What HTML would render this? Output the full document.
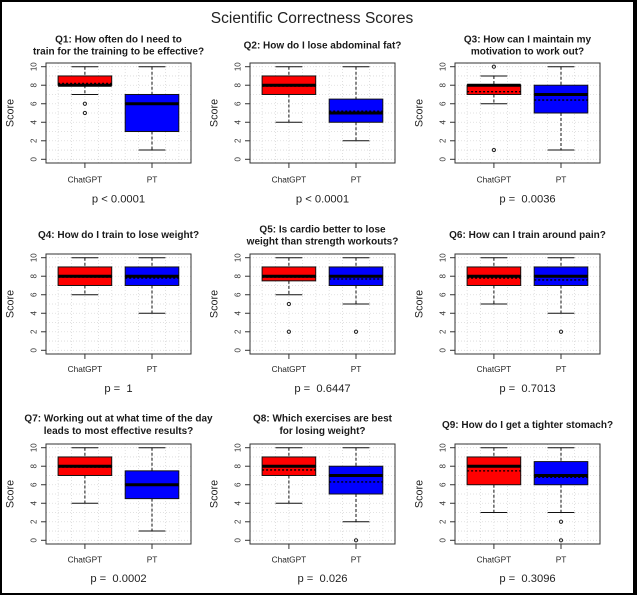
<!DOCTYPE html>
<html><head><meta charset="utf-8"><style>
html,body{margin:0;padding:0;background:#fff;}
svg{display:block;}
text{font-family:"Liberation Sans",Arial,sans-serif;fill:#1a1a1a;}
.t{font-weight:bold;font-size:10px;text-anchor:middle;}
.tk{font-size:8px;text-anchor:middle;fill:#333;}
.xl{font-size:8.3px;text-anchor:middle;fill:#222;}
.yl{font-size:10.8px;text-anchor:middle;fill:#222;}
.pv{font-size:11.2px;text-anchor:middle;white-space:pre;fill:#222;}
.wh{stroke:#111;stroke-width:1;stroke-dasharray:3,2;}
.cap{stroke:#111;stroke-width:1;}
.r{fill:#ff0000;stroke:#111;stroke-width:1;}
.b{fill:#0000ff;stroke:#111;stroke-width:1;}
.med{stroke:#000;stroke-width:3;}
.mn{stroke:#000;stroke-width:1.3;stroke-dasharray:2,2;}
.o{fill:none;stroke:#222;stroke-width:1;}
.g{stroke:#d9d9d9;stroke-width:0.8;stroke-dasharray:1,2;}
</style></head><body>
<svg width="637" height="595" viewBox="0 0 637 595" xmlns="http://www.w3.org/2000/svg">
<defs>
<g id="grid">
<line class="g" x1="0" x2="145" y1="96.3" y2="96.3"/><line class="g" x1="0" x2="145" y1="87.04" y2="87.04"/>
<line class="g" x1="0" x2="145" y1="77.78" y2="77.78"/><line class="g" x1="0" x2="145" y1="68.52" y2="68.52"/>
<line class="g" x1="0" x2="145" y1="59.26" y2="59.26"/><line class="g" x1="0" x2="145" y1="50" y2="50"/>
<line class="g" x1="0" x2="145" y1="40.74" y2="40.74"/><line class="g" x1="0" x2="145" y1="31.48" y2="31.48"/>
<line class="g" x1="0" x2="145" y1="22.22" y2="22.22"/><line class="g" x1="0" x2="145" y1="12.96" y2="12.96"/>
<line class="g" x1="0" x2="145" y1="3.7" y2="3.7"/>
<line class="g" x1="12.1" x2="12.1" y1="0" y2="100"/><line class="g" x1="25.5" x2="25.5" y1="0" y2="100"/>
<line class="g" x1="38.9" x2="38.9" y1="0" y2="100"/><line class="g" x1="52.4" x2="52.4" y1="0" y2="100"/>
<line class="g" x1="65.8" x2="65.8" y1="0" y2="100"/><line class="g" x1="79.2" x2="79.2" y1="0" y2="100"/>
<line class="g" x1="92.6" x2="92.6" y1="0" y2="100"/><line class="g" x1="106" x2="106" y1="0" y2="100"/>
<line class="g" x1="119.5" x2="119.5" y1="0" y2="100"/><line class="g" x1="132.9" x2="132.9" y1="0" y2="100"/>
</g>
<g id="axes" stroke="#333" stroke-width="1" fill="none">
<rect x="0" y="0" width="145" height="100"/>
<line x1="0" y1="3.7" x2="0" y2="96.3"/>
<line x1="-5" x2="0" y1="96.3" y2="96.3"/><line x1="-5" x2="0" y1="77.78" y2="77.78"/>
<line x1="-5" x2="0" y1="59.26" y2="59.26"/><line x1="-5" x2="0" y1="40.74" y2="40.74"/>
<line x1="-5" x2="0" y1="22.22" y2="22.22"/><line x1="-5" x2="0" y1="3.7" y2="3.7"/>
<line x1="38.9" x2="38.9" y1="100" y2="105"/><line x1="106" x2="106" y1="100" y2="105"/>
</g>
</defs>

<rect x="0" y="0" width="637" height="595" fill="#fff"/>
<rect x="0" y="0" width="637" height="2" fill="#000"/>
<rect x="0" y="593" width="637" height="2" fill="#000"/>
<rect x="0" y="0" width="2" height="595" fill="#000"/>
<rect x="633" y="0" width="4" height="595" fill="#000"/>

<text x="312" y="23" style="font-size:15.5px;text-anchor:middle;fill:#222;">Scientific Correctness Scores</text>

<!-- Q1 -->
<g transform="translate(46,63)">
<use href="#grid"/>
<line class="wh" x1="38.9" y1="3.7" x2="38.9" y2="12.96"/><line class="wh" x1="38.9" y1="22.22" x2="38.9" y2="31.48"/>
<line class="cap" x1="25.5" x2="52.3" y1="3.7" y2="3.7"/><line class="cap" x1="25.5" x2="52.3" y1="31.48" y2="31.48"/>
<rect class="r" x="12.1" y="12.96" width="53.6" height="9.26"/>
<line class="med" x1="12.1" x2="65.7" y1="22.22" y2="22.22"/>
<line class="mn" x1="12.1" x2="65.7" y1="20.37" y2="20.37"/>
<circle class="o" cx="38.9" cy="40.74" r="1.6"/><circle class="o" cx="38.9" cy="50" r="1.6"/>
<line class="wh" x1="106" y1="3.7" x2="106" y2="31.48"/><line class="wh" x1="106" y1="68.52" x2="106" y2="87.04"/>
<line class="cap" x1="92.6" x2="119.4" y1="3.7" y2="3.7"/><line class="cap" x1="92.6" x2="119.4" y1="87.04" y2="87.04"/>
<rect class="b" x="79.2" y="31.48" width="53.6" height="37.04"/>
<line class="med" x1="79.2" x2="132.8" y1="40.74" y2="40.74"/>
<use href="#axes"/>
<text class="t" x="72.5" y="-20.5">Q1: How often do I need to</text>
<text class="t" x="72.5" y="-8.5">train for the training to be effective?</text>
<text class="tk" transform="translate(-9.5,96.3) rotate(-90)">0</text><text class="tk" transform="translate(-9.5,77.78) rotate(-90)">2</text>
<text class="tk" transform="translate(-9.5,59.26) rotate(-90)">4</text><text class="tk" transform="translate(-9.5,40.74) rotate(-90)">6</text>
<text class="tk" transform="translate(-9.5,22.22) rotate(-90)">8</text><text class="tk" transform="translate(-9.5,3.7) rotate(-90)">10</text>
<text class="yl" transform="translate(-32.5,50) rotate(-90)">Score</text>
<text class="xl" x="38.9" y="119.5">ChatGPT</text><text class="xl" x="106" y="119.5">PT</text>
<text class="pv" x="72.5" y="139.5">p &lt; 0.0001</text>
</g>

<!-- Q2 -->
<g transform="translate(250,63)">
<use href="#grid"/>
<line class="wh" x1="38.9" y1="3.7" x2="38.9" y2="12.96"/><line class="wh" x1="38.9" y1="31.48" x2="38.9" y2="59.26"/>
<line class="cap" x1="25.5" x2="52.3" y1="3.7" y2="3.7"/><line class="cap" x1="25.5" x2="52.3" y1="59.26" y2="59.26"/>
<rect class="r" x="12.1" y="12.96" width="53.6" height="18.52"/>
<line class="med" x1="12.1" x2="65.7" y1="22.22" y2="22.22"/>
<line class="mn" x1="12.1" x2="65.7" y1="23.15" y2="23.15"/>
<line class="wh" x1="106" y1="3.7" x2="106" y2="36.11"/><line class="wh" x1="106" y1="59.26" x2="106" y2="77.78"/>
<line class="cap" x1="92.6" x2="119.4" y1="3.7" y2="3.7"/><line class="cap" x1="92.6" x2="119.4" y1="77.78" y2="77.78"/>
<rect class="b" x="79.2" y="36.11" width="53.6" height="23.15"/>
<line class="med" x1="79.2" x2="132.8" y1="50" y2="50"/>
<line class="mn" x1="79.2" x2="132.8" y1="48.15" y2="48.15"/>
<use href="#axes"/>
<text class="t" x="72.5" y="-14.5">Q2: How do I lose abdominal fat?</text>
<text class="tk" transform="translate(-9.5,96.3) rotate(-90)">0</text><text class="tk" transform="translate(-9.5,77.78) rotate(-90)">2</text>
<text class="tk" transform="translate(-9.5,59.26) rotate(-90)">4</text><text class="tk" transform="translate(-9.5,40.74) rotate(-90)">6</text>
<text class="tk" transform="translate(-9.5,22.22) rotate(-90)">8</text><text class="tk" transform="translate(-9.5,3.7) rotate(-90)">10</text>
<text class="yl" transform="translate(-32.5,50) rotate(-90)">Score</text>
<text class="xl" x="38.9" y="119.5">ChatGPT</text><text class="xl" x="106" y="119.5">PT</text>
<text class="pv" x="72.5" y="139.5">p &lt; 0.0001</text>
</g>

<!-- Q3 -->
<g transform="translate(455,63)">
<use href="#grid"/>
<line class="wh" x1="38.9" y1="12.96" x2="38.9" y2="22.22"/><line class="wh" x1="38.9" y1="31.48" x2="38.9" y2="40.74"/>
<line class="cap" x1="25.5" x2="52.3" y1="12.96" y2="12.96"/><line class="cap" x1="25.5" x2="52.3" y1="40.74" y2="40.74"/>
<rect class="r" x="12.1" y="22.22" width="53.6" height="9.26"/>
<line class="med" x1="12.1" x2="65.7" y1="22.22" y2="22.22"/>
<line class="mn" x1="12.1" x2="65.7" y1="28.7" y2="28.7"/>
<circle class="o" cx="38.9" cy="3.7" r="1.6"/><circle class="o" cx="38.9" cy="87.04" r="1.6"/>
<line class="wh" x1="106" y1="3.7" x2="106" y2="22.22"/><line class="wh" x1="106" y1="50" x2="106" y2="87.04"/>
<line class="cap" x1="92.6" x2="119.4" y1="3.7" y2="3.7"/><line class="cap" x1="92.6" x2="119.4" y1="87.04" y2="87.04"/>
<rect class="b" x="79.2" y="22.22" width="53.6" height="27.78"/>
<line class="med" x1="79.2" x2="132.8" y1="31.48" y2="31.48"/>
<line class="mn" x1="79.2" x2="132.8" y1="37.04" y2="37.04"/>
<use href="#axes"/>
<text class="t" x="72.5" y="-20.5">Q3: How can I maintain my</text>
<text class="t" x="72.5" y="-8.5">motivation to work out?</text>
<text class="tk" transform="translate(-9.5,96.3) rotate(-90)">0</text><text class="tk" transform="translate(-9.5,77.78) rotate(-90)">2</text>
<text class="tk" transform="translate(-9.5,59.26) rotate(-90)">4</text><text class="tk" transform="translate(-9.5,40.74) rotate(-90)">6</text>
<text class="tk" transform="translate(-9.5,22.22) rotate(-90)">8</text><text class="tk" transform="translate(-9.5,3.7) rotate(-90)">10</text>
<text class="yl" transform="translate(-32.5,50) rotate(-90)">Score</text>
<text class="xl" x="38.9" y="119.5">ChatGPT</text><text class="xl" x="106" y="119.5">PT</text>
<text class="pv" x="72.5" y="139.5">p =  0.0036</text>
</g>

<!-- Q4 -->
<g transform="translate(46,254)">
<use href="#grid"/>
<line class="wh" x1="38.9" y1="3.7" x2="38.9" y2="12.96"/><line class="wh" x1="38.9" y1="31.48" x2="38.9" y2="40.74"/>
<line class="cap" x1="25.5" x2="52.3" y1="3.7" y2="3.7"/><line class="cap" x1="25.5" x2="52.3" y1="40.74" y2="40.74"/>
<rect class="r" x="12.1" y="12.96" width="53.6" height="18.52"/>
<line class="med" x1="12.1" x2="65.7" y1="22.22" y2="22.22"/>
<line class="mn" x1="12.1" x2="65.7" y1="23.15" y2="23.15"/>
<line class="wh" x1="106" y1="3.7" x2="106" y2="12.96"/><line class="wh" x1="106" y1="31.48" x2="106" y2="59.26"/>
<line class="cap" x1="92.6" x2="119.4" y1="3.7" y2="3.7"/><line class="cap" x1="92.6" x2="119.4" y1="59.26" y2="59.26"/>
<rect class="b" x="79.2" y="12.96" width="53.6" height="18.52"/>
<line class="med" x1="79.2" x2="132.8" y1="22.22" y2="22.22"/>
<line class="mn" x1="79.2" x2="132.8" y1="24.07" y2="24.07"/>
<use href="#axes"/>
<text class="t" x="72.5" y="-16">Q4: How do I train to lose weight?</text>
<text class="tk" transform="translate(-9.5,96.3) rotate(-90)">0</text><text class="tk" transform="translate(-9.5,77.78) rotate(-90)">2</text>
<text class="tk" transform="translate(-9.5,59.26) rotate(-90)">4</text><text class="tk" transform="translate(-9.5,40.74) rotate(-90)">6</text>
<text class="tk" transform="translate(-9.5,22.22) rotate(-90)">8</text><text class="tk" transform="translate(-9.5,3.7) rotate(-90)">10</text>
<text class="yl" transform="translate(-32.5,50) rotate(-90)">Score</text>
<text class="xl" x="38.9" y="118">ChatGPT</text><text class="xl" x="106" y="118">PT</text>
<text class="pv" x="72.5" y="138">p =  1</text>
</g>

<!-- Q5 -->
<g transform="translate(250,254)">
<use href="#grid"/>
<line class="wh" x1="38.9" y1="3.7" x2="38.9" y2="12.96"/><line class="wh" x1="38.9" y1="26.85" x2="38.9" y2="40.74"/>
<line class="cap" x1="25.5" x2="52.3" y1="3.7" y2="3.7"/><line class="cap" x1="25.5" x2="52.3" y1="40.74" y2="40.74"/>
<rect class="r" x="12.1" y="12.96" width="53.6" height="13.89"/>
<line class="med" x1="12.1" x2="65.7" y1="22.22" y2="22.22"/>
<line class="mn" x1="12.1" x2="65.7" y1="23.15" y2="23.15"/>
<circle class="o" cx="38.9" cy="50" r="1.6"/><circle class="o" cx="38.9" cy="77.78" r="1.6"/>
<line class="wh" x1="106" y1="3.7" x2="106" y2="12.96"/><line class="wh" x1="106" y1="31.48" x2="106" y2="50"/>
<line class="cap" x1="92.6" x2="119.4" y1="3.7" y2="3.7"/><line class="cap" x1="92.6" x2="119.4" y1="50" y2="50"/>
<rect class="b" x="79.2" y="12.96" width="53.6" height="18.52"/>
<line class="med" x1="79.2" x2="132.8" y1="22.22" y2="22.22"/>
<line class="mn" x1="79.2" x2="132.8" y1="25" y2="25"/>
<circle class="o" cx="106" cy="77.78" r="1.6"/>
<use href="#axes"/>
<text class="t" x="72.5" y="-21.5">Q5: Is cardio better to lose</text>
<text class="t" x="72.5" y="-9.5">weight than strength workouts?</text>
<text class="tk" transform="translate(-9.5,96.3) rotate(-90)">0</text><text class="tk" transform="translate(-9.5,77.78) rotate(-90)">2</text>
<text class="tk" transform="translate(-9.5,59.26) rotate(-90)">4</text><text class="tk" transform="translate(-9.5,40.74) rotate(-90)">6</text>
<text class="tk" transform="translate(-9.5,22.22) rotate(-90)">8</text><text class="tk" transform="translate(-9.5,3.7) rotate(-90)">10</text>
<text class="yl" transform="translate(-32.5,50) rotate(-90)">Score</text>
<text class="xl" x="38.9" y="118">ChatGPT</text><text class="xl" x="106" y="118">PT</text>
<text class="pv" x="72.5" y="138">p =  0.6447</text>
</g>

<!-- Q6 -->
<g transform="translate(455,254)">
<use href="#grid"/>
<line class="wh" x1="38.9" y1="3.7" x2="38.9" y2="12.96"/><line class="wh" x1="38.9" y1="31.48" x2="38.9" y2="50"/>
<line class="cap" x1="25.5" x2="52.3" y1="3.7" y2="3.7"/><line class="cap" x1="25.5" x2="52.3" y1="50" y2="50"/>
<rect class="r" x="12.1" y="12.96" width="53.6" height="18.52"/>
<line class="med" x1="12.1" x2="65.7" y1="22.22" y2="22.22"/>
<line class="mn" x1="12.1" x2="65.7" y1="24.07" y2="24.07"/>
<line class="wh" x1="106" y1="3.7" x2="106" y2="12.96"/><line class="wh" x1="106" y1="31.48" x2="106" y2="59.26"/>
<line class="cap" x1="92.6" x2="119.4" y1="3.7" y2="3.7"/><line class="cap" x1="92.6" x2="119.4" y1="59.26" y2="59.26"/>
<rect class="b" x="79.2" y="12.96" width="53.6" height="18.52"/>
<line class="med" x1="79.2" x2="132.8" y1="22.22" y2="22.22"/>
<line class="mn" x1="79.2" x2="132.8" y1="25.93" y2="25.93"/>
<circle class="o" cx="106" cy="77.78" r="1.6"/>
<use href="#axes"/>
<text class="t" x="72.5" y="-16">Q6: How can I train around pain?</text>
<text class="tk" transform="translate(-9.5,96.3) rotate(-90)">0</text><text class="tk" transform="translate(-9.5,77.78) rotate(-90)">2</text>
<text class="tk" transform="translate(-9.5,59.26) rotate(-90)">4</text><text class="tk" transform="translate(-9.5,40.74) rotate(-90)">6</text>
<text class="tk" transform="translate(-9.5,22.22) rotate(-90)">8</text><text class="tk" transform="translate(-9.5,3.7) rotate(-90)">10</text>
<text class="yl" transform="translate(-32.5,50) rotate(-90)">Score</text>
<text class="xl" x="38.9" y="118">ChatGPT</text><text class="xl" x="106" y="118">PT</text>
<text class="pv" x="72.5" y="138">p =  0.7013</text>
</g>

<!-- Q7 -->
<g transform="translate(46,444)">
<use href="#grid"/>
<line class="wh" x1="38.9" y1="3.7" x2="38.9" y2="12.96"/><line class="wh" x1="38.9" y1="31.48" x2="38.9" y2="59.26"/>
<line class="cap" x1="25.5" x2="52.3" y1="3.7" y2="3.7"/><line class="cap" x1="25.5" x2="52.3" y1="59.26" y2="59.26"/>
<rect class="r" x="12.1" y="12.96" width="53.6" height="18.52"/>
<line class="med" x1="12.1" x2="65.7" y1="22.22" y2="22.22"/>
<line class="mn" x1="12.1" x2="65.7" y1="23.15" y2="23.15"/>
<line class="wh" x1="106" y1="3.7" x2="106" y2="26.85"/><line class="wh" x1="106" y1="54.63" x2="106" y2="87.04"/>
<line class="cap" x1="92.6" x2="119.4" y1="3.7" y2="3.7"/><line class="cap" x1="92.6" x2="119.4" y1="87.04" y2="87.04"/>
<rect class="b" x="79.2" y="26.85" width="53.6" height="27.78"/>
<line class="med" x1="79.2" x2="132.8" y1="40.74" y2="40.74"/>
<use href="#axes"/>
<text class="t" x="72.5" y="-22.5">Q7: Working out at what time of the day</text>
<text class="t" x="72.5" y="-10">leads to most effective results?</text>
<text class="tk" transform="translate(-9.5,96.3) rotate(-90)">0</text><text class="tk" transform="translate(-9.5,77.78) rotate(-90)">2</text>
<text class="tk" transform="translate(-9.5,59.26) rotate(-90)">4</text><text class="tk" transform="translate(-9.5,40.74) rotate(-90)">6</text>
<text class="tk" transform="translate(-9.5,22.22) rotate(-90)">8</text><text class="tk" transform="translate(-9.5,3.7) rotate(-90)">10</text>
<text class="yl" transform="translate(-32.5,50) rotate(-90)">Score</text>
<text class="xl" x="38.9" y="118.5">ChatGPT</text><text class="xl" x="106" y="118.5">PT</text>
<text class="pv" x="72.5" y="138">p =  0.0002</text>
</g>

<!-- Q8 -->
<g transform="translate(250,444)">
<use href="#grid"/>
<line class="wh" x1="38.9" y1="3.7" x2="38.9" y2="12.96"/><line class="wh" x1="38.9" y1="31.48" x2="38.9" y2="59.26"/>
<line class="cap" x1="25.5" x2="52.3" y1="3.7" y2="3.7"/><line class="cap" x1="25.5" x2="52.3" y1="59.26" y2="59.26"/>
<rect class="r" x="12.1" y="12.96" width="53.6" height="18.52"/>
<line class="med" x1="12.1" x2="65.7" y1="22.22" y2="22.22"/>
<line class="mn" x1="12.1" x2="65.7" y1="25.93" y2="25.93"/>
<line class="wh" x1="106" y1="3.7" x2="106" y2="22.22"/><line class="wh" x1="106" y1="50" x2="106" y2="77.78"/>
<line class="cap" x1="92.6" x2="119.4" y1="3.7" y2="3.7"/><line class="cap" x1="92.6" x2="119.4" y1="77.78" y2="77.78"/>
<rect class="b" x="79.2" y="22.22" width="53.6" height="27.78"/>
<line class="med" x1="79.2" x2="132.8" y1="31.48" y2="31.48"/>
<line class="mn" x1="79.2" x2="132.8" y1="37.96" y2="37.96"/>
<circle class="o" cx="106" cy="96.3" r="1.6"/>
<use href="#axes"/>
<text class="t" x="72.5" y="-22.5">Q8: Which exercises are best</text>
<text class="t" x="72.5" y="-10">for losing weight?</text>
<text class="tk" transform="translate(-9.5,96.3) rotate(-90)">0</text><text class="tk" transform="translate(-9.5,77.78) rotate(-90)">2</text>
<text class="tk" transform="translate(-9.5,59.26) rotate(-90)">4</text><text class="tk" transform="translate(-9.5,40.74) rotate(-90)">6</text>
<text class="tk" transform="translate(-9.5,22.22) rotate(-90)">8</text><text class="tk" transform="translate(-9.5,3.7) rotate(-90)">10</text>
<text class="yl" transform="translate(-32.5,50) rotate(-90)">Score</text>
<text class="xl" x="38.9" y="118.5">ChatGPT</text><text class="xl" x="106" y="118.5">PT</text>
<text class="pv" x="72.5" y="138">p =  0.026</text>
</g>

<!-- Q9 -->
<g transform="translate(455,444)">
<use href="#grid"/>
<line class="wh" x1="38.9" y1="3.7" x2="38.9" y2="12.96"/><line class="wh" x1="38.9" y1="40.74" x2="38.9" y2="68.52"/>
<line class="cap" x1="25.5" x2="52.3" y1="3.7" y2="3.7"/><line class="cap" x1="25.5" x2="52.3" y1="68.52" y2="68.52"/>
<rect class="r" x="12.1" y="12.96" width="53.6" height="27.78"/>
<line class="med" x1="12.1" x2="65.7" y1="22.22" y2="22.22"/>
<line class="mn" x1="12.1" x2="65.7" y1="26.85" y2="26.85"/>
<line class="wh" x1="106" y1="3.7" x2="106" y2="17.59"/><line class="wh" x1="106" y1="40.74" x2="106" y2="68.52"/>
<line class="cap" x1="92.6" x2="119.4" y1="3.7" y2="3.7"/><line class="cap" x1="92.6" x2="119.4" y1="68.52" y2="68.52"/>
<rect class="b" x="79.2" y="17.59" width="53.6" height="23.15"/>
<line class="med" x1="79.2" x2="132.8" y1="31.48" y2="31.48"/>
<line class="mn" x1="79.2" x2="132.8" y1="33.3" y2="33.3"/>
<circle class="o" cx="106" cy="77.78" r="1.6"/><circle class="o" cx="106" cy="96.3" r="1.6"/>
<use href="#axes"/>
<text class="t" x="72.5" y="-16">Q9: How do I get a tighter stomach?</text>
<text class="tk" transform="translate(-9.5,96.3) rotate(-90)">0</text><text class="tk" transform="translate(-9.5,77.78) rotate(-90)">2</text>
<text class="tk" transform="translate(-9.5,59.26) rotate(-90)">4</text><text class="tk" transform="translate(-9.5,40.74) rotate(-90)">6</text>
<text class="tk" transform="translate(-9.5,22.22) rotate(-90)">8</text><text class="tk" transform="translate(-9.5,3.7) rotate(-90)">10</text>
<text class="yl" transform="translate(-32.5,50) rotate(-90)">Score</text>
<text class="xl" x="38.9" y="118.5">ChatGPT</text><text class="xl" x="106" y="118.5">PT</text>
<text class="pv" x="72.5" y="138">p =  0.3096</text>
</g>
</svg>
</body></html>
